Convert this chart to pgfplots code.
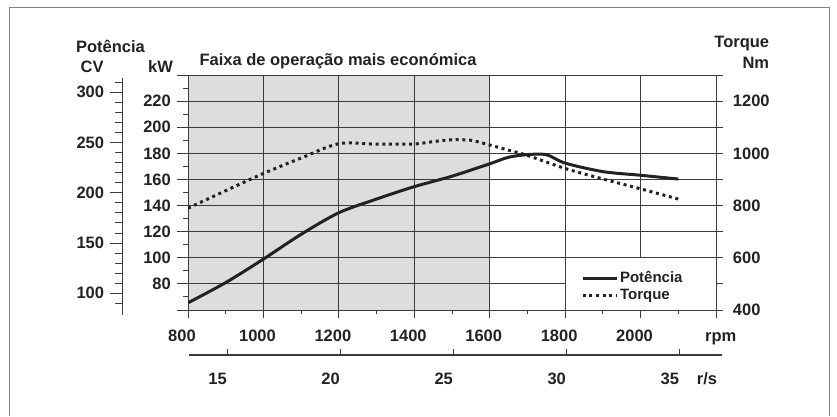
\documentclass[border=0pt]{standalone}
\usepackage{fontspec}
\setmainfont{Liberation Sans}
\usepackage{pgfplots}
\usepackage{pgfplotstable}
\pgfplotsset{compat=1.18}
\definecolor{ink}{HTML}{222222}
\definecolor{axc}{HTML}{3C3C3C}
\definecolor{shade}{RGB}{220,221,223}
\definecolor{framec}{HTML}{808080}
\newcommand{\lbl}{\fontsize{16.5}{19}\selectfont\bfseries}

\pgfplotstableread{
rpm kw
800 65.5
900 81
1000 99
1100 118
1200 134.5
1300 145
1400 154.5
1500 162.5
1600 172
1650 177
1700 179
1750 179
1800 172.5
1900 166
2000 163.2
2100 160.3
}\powertab

\pgfplotstableread{
rpm nm
800 790
900 857
1000 923
1100 982
1200 1037
1300 1035
1400 1036
1450 1045
1500 1052
1550 1050
1600 1032
1650 1012
1700 992
1800 942
1900 902
2000 864
2100 825
}\torquetab

\begin{document}
\begin{tikzpicture}
\path[use as bounding box] (-188pt,-106pt) rectangle (649pt,310pt);
\draw[framec, line width=0.8pt] (-179pt,-106pt) -- (-179pt,303pt) -- (641pt,303pt) -- (641pt,-106pt);

% CV axis
\begin{axis}[scale only axis, width=10pt, height=237pt, at={(-65.7pt,-5pt)}, anchor=south west,
  xmin=0, xmax=1, ymin=78.4, ymax=314.2,
  hide x axis, axis y line*=left,
  y axis line style={axc, line width=0.9pt, -},
  ytick={100,150,...,300}, yticklabels={100,150,200,250,300},
  minor ytick={90,100,...,310},
  tick align=outside, major tick length=12pt, minor tick length=7pt,
  tick style={axc, line width=0.9pt},
  yticklabel style={anchor=east, inner sep=0pt, xshift=-6pt, font=\lbl, text=ink}]
\end{axis}

% background shading and left kW ticks
\begin{axis}[scale only axis, width=528pt, height=235pt, at={(0pt,0pt)}, anchor=south west,
  xmin=800, xmax=2200, ymin=60, ymax=240,
  hide x axis, axis y line*=left,
  y axis line style={axc, line width=0.9pt, -},
  ytick={60,80,...,240}, yticklabels={,80,100,120,140,160,180,200,220,},
  minor y tick num=1,
  tick align=outside, major tick length=10.5pt, minor tick length=5pt,
  tick style={axc, line width=0.9pt},
  yticklabel style={anchor=east, inner sep=0pt, xshift=-6.5pt, font=\lbl, text=ink}]
\addplot[fill=shade, draw=none] coordinates {(800,60) (800,240) (1600,240) (1600,60)} \closedcycle;
\end{axis}

% main axis: grid, rpm axis, power
\begin{axis}[scale only axis, width=528pt, height=235pt, at={(0pt,0pt)}, anchor=south west,
  xmin=800, xmax=2200, ymin=60, ymax=240,
  axis line style={axc, line width=0.9pt},
  grid=major, major grid style={axc, line width=0.8pt},
  xtick={800,1000,...,2200}, xticklabels={800,1000,1200,1400,1600,1800,2000,},
  minor x tick num=1,
  ytick={60,80,...,240}, yticklabels={}, ytick style={draw=none},
  xtick pos=lower, ytick pos=lower,
  tick align=outside, major tick length=8pt, minor tick length=3.5pt,
  xtick style={axc, line width=0.9pt},
  xticklabel style={anchor=base, inner sep=0pt, xshift=-6pt, yshift=-23.7pt, font=\lbl, text=ink}]
\addplot[ink, line width=3pt, smooth] table[x=rpm, y=kw]{\powertab};
\end{axis}

% torque axis
\begin{axis}[scale only axis, width=528pt, height=235pt, at={(0pt,0pt)}, anchor=south west,
  xmin=800, xmax=2200, ymin=400, ymax=1300,
  hide x axis, axis y line*=right,
  y axis line style={axc, line width=0.9pt, -},
  ytick={400,600,...,1200}, yticklabels={400,600,800,1000,1200},
  minor ytick={500,700,...,1300},
  tick align=outside, major tick length=7pt, minor tick length=7pt,
  tick style={axc, line width=0.9pt},
  yticklabel style={anchor=west, inner sep=0pt, xshift=9.7pt, font=\lbl, text=ink},
  legend style={draw=none, fill=none, at={(0.744,0.172)}, anchor=north west,
    font=\fontsize{15}{18}\selectfont\bfseries, text=ink, inner sep=0pt, row sep=1pt,
    cells={anchor=west}},
  legend image code/.code={\draw[#1] (0pt,0pt) -- (34pt,0pt);}]
\draw[axc, line width=0.9pt, fill=white] (axis cs:1800,400) rectangle (axis cs:2200,600);
\addlegendimage{ink, line width=3pt}
\addlegendentry{Potência}
\addplot[ink, line width=3pt, dash pattern=on 3pt off 3.7pt, smooth] table[x=rpm, y=nm]{\torquetab};
\addlegendentry{Torque}
\end{axis}

% r/s axis
\begin{axis}[scale only axis, width=532.4pt, height=6pt, at={(1.3pt,-45pt)}, anchor=south west,
  xmin=800, xmax=2213, ymin=0, ymax=1,
  axis x line*=bottom, axis y line=none, ytick=\empty,
  x axis line style={axc, line width=1.2pt, -},
  xtick={900,1200,1500,1800,2100}, xticklabels={15,20,25,30,35},
  tick align=inside, major tick length=6pt,
  tick style={axc, line width=0.9pt},
  xticklabel style={anchor=base east, inner sep=0pt, yshift=-29pt, font=\lbl, text=ink}]
\end{axis}
\draw[axc, line width=1.4pt] (1.3pt,-45pt) -- (533.7pt,-45pt);

\begin{scope}[every node/.style={font=\lbl, text=ink, inner sep=0pt}]
\node[anchor=base] at (-77.5pt,258pt) {Potência};
\node[anchor=base] at (-95.8pt,237.3pt) {CV};
\node[anchor=base] at (-27.5pt,237.3pt) {kW};
\node[anchor=base west] at (11.3pt,244.3pt) {Faixa de operação mais económica};
\node[anchor=base east] at (581.3pt,262.7pt) {Torque};
\node[anchor=base east] at (581.3pt,241.7pt) {Nm};
\node[anchor=base west] at (517pt,-31.7pt) {rpm};
\node[anchor=base west] at (508.7pt,-74pt) {r/s};
\end{scope}
\end{tikzpicture}
\end{document}
